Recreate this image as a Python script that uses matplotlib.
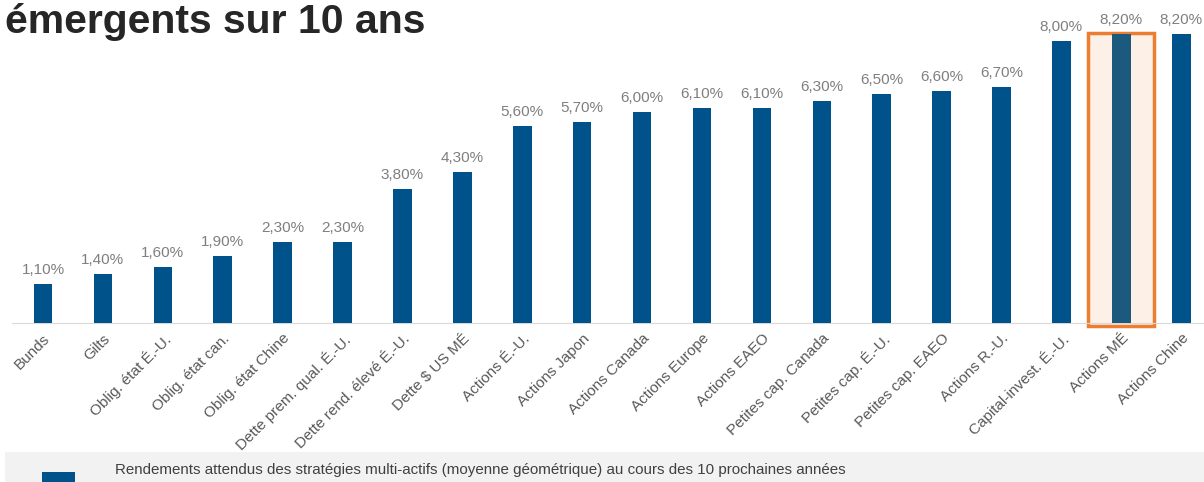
import matplotlib.pyplot as plt
from matplotlib.patches import Rectangle

plt.rcParams['font.family'] = ['Liberation Sans', 'DejaVu Sans']

categories = ['Bunds', 'Gilts', 'Oblig. état É.-U.', 'Oblig. état can.', 'Oblig. état Chine',
              'Dette prem. qual. É.-U.', 'Dette rend. élevé É.-U.', 'Dette $ US MÉ',
              'Actions É.-U.', 'Actions Japon', 'Actions Canada', 'Actions Europe',
              'Actions EAEO', 'Petites cap. Canada', 'Petites cap. É.-U.', 'Petites cap. EAEO',
              'Actions R.-U.', 'Capital-invest. É.-U.', 'Actions MÉ', 'Actions Chine']
returns = [1.1, 1.4, 1.6, 1.9, 2.3, 2.3, 3.8, 4.3, 5.6, 5.7,
           6.0, 6.1, 6.1, 6.3, 6.5, 6.6, 6.7, 8.0, 8.2, 8.2]
highlight = 'Actions MÉ'

title = 'émergents sur 10 ans'
legend_label = 'Rendements attendus des stratégies multi-actifs (moyenne géométrique) au cours des 10 prochaines années'

BLUE = '#00538A'
BLUE_HL = '#1B5A7C'
W, H = 1204, 482

fig = plt.figure(figsize=(W / 100, H / 100), dpi=100)
ax = fig.add_axes([12 / W, (H - 323) / H, 1 - 12 / W, 323 / H])

x = list(range(len(categories)))
colors = [BLUE_HL if c == highlight else BLUE for c in categories]
ax.bar(x, returns, width=0.31, color=colors, zorder=3)

for xi, v in zip(x, returns):
    ax.annotate(f'{v:.2f}%'.replace('.', ','), (xi, v), xytext=(0, 5),
                textcoords='offset points', ha='center', va='bottom',
                fontsize=11, color='#7F7F7F', zorder=4)

hi = categories.index(highlight)
ax.add_patch(Rectangle((hi - 0.55, -0.08), 1.09, 8.32, facecolor='#FDF0E6',
                       edgecolor='#ED7D31', lw=2.5, zorder=1, clip_on=False))

ax.set_xlim(-0.518, 19.38)
ax.set_ylim(0, 9.17)
ax.set_yticks([])
ax.set_xticks(x)
ax.set_xticklabels(categories, rotation=45, ha='right', rotation_mode='anchor',
                   fontsize=11, color='#595959')
ax.tick_params(axis='x', length=0, pad=6)
for s in ['top', 'right', 'left']:
    ax.spines[s].set_visible(False)
ax.spines['bottom'].set_color('#D9D9D9')
ax.spines['bottom'].set_zorder(2)
ax.patch.set_alpha(0)

fig.text(5 / W, 1 - 33 / H, title, fontsize=29.5, fontweight='bold', color='#262626',
         va='baseline', ha='left')

# legend band at bottom
fig.patches.append(Rectangle((5 / W, 0), 1 - 5 / W, 30 / H, transform=fig.transFigure,
                             facecolor='#F2F2F2', edgecolor='none', zorder=0))
fig.patches.append(Rectangle((42 / W, 0), 33 / W, 10 / H, transform=fig.transFigure,
                             facecolor=BLUE, edgecolor='none', zorder=1))
fig.text(115 / W, 1 - 470 / H, legend_label, fontsize=10.9, color='#404040',
         va='center', ha='left')

fig.savefig('out.png', dpi=100)
